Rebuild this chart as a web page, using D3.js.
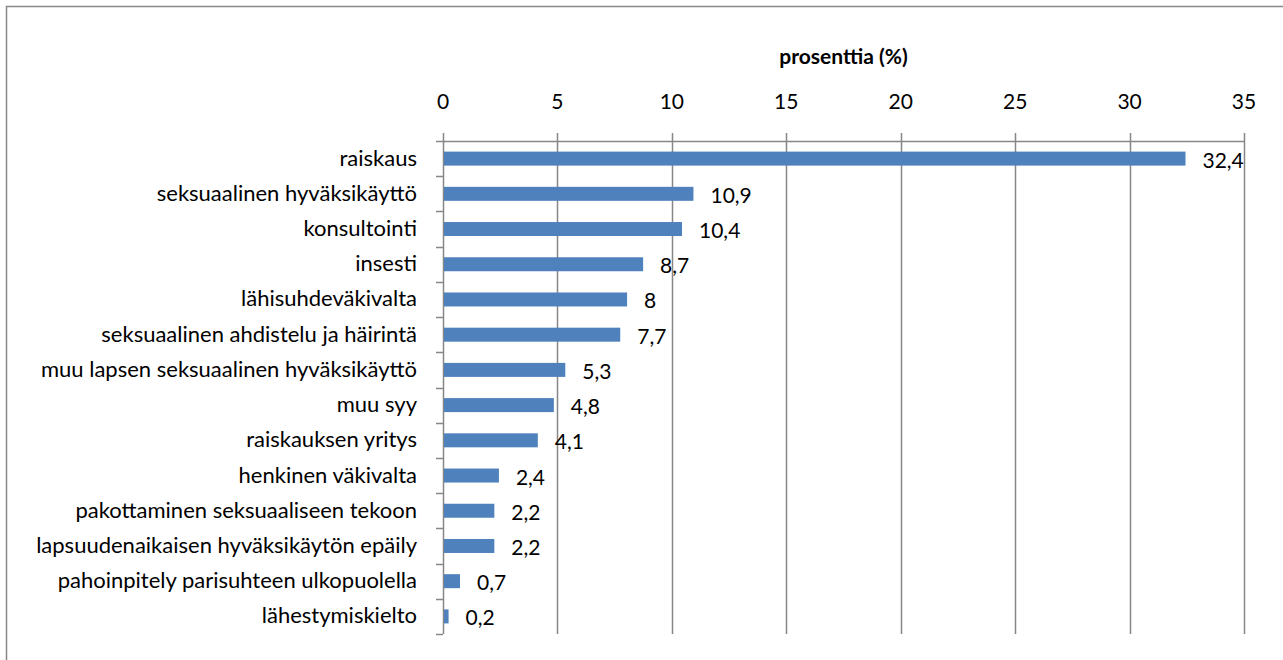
<!DOCTYPE html>
<html>
<head>
<meta charset="utf-8">
<script src="https://cdn.jsdelivr.net/npm/d3@7"></script>
<style>
  body { margin: 0; background: #fff; }
  svg text { font-family: Lato, "Open Sans", sans-serif; fill: #000; }
</style>
</head>
<body>
<div id="chart"></div>
<script>
var categories = [
    "raiskaus",
    "seksuaalinen hyväksikäyttö",
    "konsultointi",
    "insesti",
    "lähisuhdeväkivalta",
    "seksuaalinen ahdistelu ja häirintä",
    "muu lapsen seksuaalinen hyväksikäyttö",
    "muu syy",
    "raiskauksen yritys",
    "henkinen väkivalta",
    "pakottaminen seksuaaliseen tekoon",
    "lapsuudenaikaisen hyväksikäytön epäily",
    "pahoinpitely parisuhteen ulkopuolella",
    "lähestymiskielto"
];
var values = [32.4, 10.9, 10.4, 8.7, 8, 7.7, 5.3, 4.8, 4.1, 2.4, 2.2, 2.2, 0.7, 0.2];
var xTicks = [0, 5, 10, 15, 20, 25, 30, 35];
var axisTitle = "prosenttia (%)";

var width = 1283, height = 660;
var plot = { left: 443, right: 1244, top: 141, bottom: 634 };
var gridColor = "#878787";

var svg = d3.select("#chart").append("svg")
    .attr("width", width)
    .attr("height", height);

// outer chart border (only top and left fall inside the picture)
svg.append("path")
    .attr("d", "M6.5," + height + "V6.5H" + width)
    .attr("fill", "none")
    .attr("stroke", gridColor)
    .attr("stroke-width", 1.5);

var x = d3.scaleLinear().domain([0, 35]).range([plot.left, plot.right]);
var y = d3.scaleBand().domain(categories).range([plot.top, plot.bottom]);

// vertical gridlines, sticking up past the axis as tick marks
svg.append("g").selectAll("line")
    .data(xTicks)
    .enter().append("line")
    .attr("x1", function(d) { return Math.round(x(d)) + 0.5; })
    .attr("x2", function(d) { return Math.round(x(d)) + 0.5; })
    .attr("y1", plot.top - 8)
    .attr("y2", plot.bottom)
    .attr("stroke", gridColor)
    .attr("stroke-width", 1.5);

// top axis line
svg.append("line")
    .attr("x1", plot.left).attr("x2", plot.right)
    .attr("y1", plot.top + 0.5).attr("y2", plot.top + 0.5)
    .attr("stroke", gridColor)
    .attr("stroke-width", 1.5);

// category tick marks on the left
var boundaries = categories.map(function(c) { return y(c); }).concat([plot.bottom]);
svg.append("g").selectAll("line")
    .data(boundaries)
    .enter().append("line")
    .attr("x1", plot.left - 7).attr("x2", plot.left)
    .attr("y1", function(d) { return Math.round(d) + 0.5; })
    .attr("y2", function(d) { return Math.round(d) + 0.5; })
    .attr("stroke", gridColor)
    .attr("stroke-width", 1.5);

// tick labels
svg.append("g").selectAll("text")
    .data(xTicks)
    .enter().append("text")
    .attr("x", function(d) { return x(d); })
    .attr("y", 109)
    .attr("text-anchor", "middle")
    .style("font-size", "21px")
    .text(function(d) { return d; });

svg.append("text")
    .attr("x", (plot.left + plot.right) / 2)
    .attr("y", 64)
    .attr("text-anchor", "middle")
    .style("font-size", "21px")
    .style("font-weight", "bold")
    .text(axisTitle);

// category labels
svg.append("g").selectAll("text")
    .data(categories)
    .enter().append("text")
    .attr("x", 417)
    .attr("y", function(d) { return y(d) + y.bandwidth() / 2 + 7; })
    .attr("text-anchor", "end")
    .style("font-size", "22px")
    .text(function(d) { return d; });

// bars
var barH = 14;
svg.append("g").selectAll("rect")
    .data(values)
    .enter().append("rect")
    .attr("x", x(0) + 1)
    .attr("y", function(d, i) { return y(categories[i]) + y.bandwidth() / 2 - barH / 2; })
    .attr("width", function(d) { return x(d) - x(0); })
    .attr("height", barH)
    .attr("fill", "#4f81bd");

// value labels
svg.append("g").selectAll("text")
    .data(values)
    .enter().append("text")
    .attr("x", function(d) { return x(d) + 18; })
    .attr("y", function(d, i) { return y(categories[i]) + y.bandwidth() / 2 + 9; })
    .style("font-size", "21px")
    .text(function(d) { return String(d).replace(".", ","); });
</script>
</body>
</html>
